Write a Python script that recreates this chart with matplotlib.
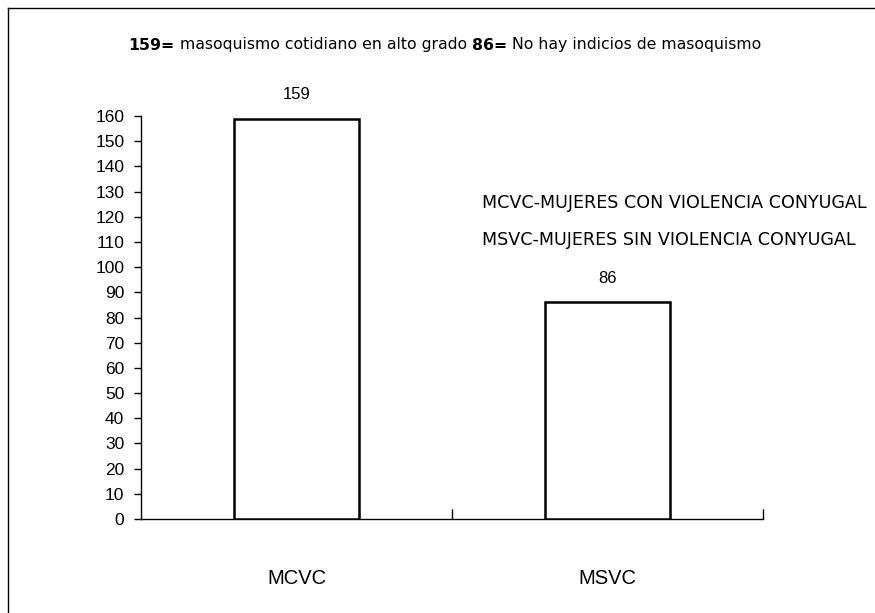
import matplotlib
matplotlib.use("Agg")
import matplotlib.pyplot as plt
from matplotlib.lines import Line2D
from matplotlib.offsetbox import TextArea, HPacker, AnchoredOffsetbox

categories = ["MCVC", "MSVC"]
values = [159, 86]
yticks = list(range(0, 161, 10))
title_parts = ["159=", " masoquismo cotidiano en alto grado ", "86=", " No hay indicios de masoquismo"]
legend_lines = ["MCVC-MUJERES CON VIOLENCIA CONYUGAL", "MSVC-MUJERES SIN VIOLENCIA CONYUGAL"]

plt.rcParams['font.family'] = ['Liberation Sans', 'DejaVu Sans']

fig = plt.figure(figsize=(8.75, 6.13), dpi=100)
ax = fig.add_axes([141/875, 1-519/613, (763-141)/875, (519-116)/613])

x = list(range(len(categories)))
ax.bar(x, values, width=0.4, color="white", edgecolor="black", linewidth=1.8, zorder=3)
for xi, v in zip(x, values):
    ax.text(xi, v + 9.5, str(v), ha="center", va="center", fontsize=12)

ax.set_xlim(-0.5, 1.5)
ax.set_ylim(0, 160)
ax.set_yticks(yticks)
ax.set_yticklabels([str(t) for t in yticks], fontsize=12.5)
ax.tick_params(axis="y", direction="out", length=5, width=1, pad=7)
ax.set_xticks([0.5, 1.5])
ax.set_xticklabels(["", ""])
ax.tick_params(axis="x", direction="in", length=7, width=1)
for xi, c in zip(x, categories):
    ax.text(xi, -23.5, c, ha="center", va="center", fontsize=14.5, clip_on=False)
for s in ["top", "right"]:
    ax.spines[s].set_visible(False)
ax.spines["left"].set_linewidth(1)
ax.spines["bottom"].set_linewidth(1)

boxes = [TextArea(t, textprops=dict(fontsize=11.3, family="DejaVu Sans",
                                    fontweight=("bold" if i % 2 == 0 else "normal")))
         for i, t in enumerate(title_parts)]
pack = HPacker(children=boxes, align="baseline", pad=0, sep=0)
ab = AnchoredOffsetbox(loc="center", child=pack, frameon=False,
                       bbox_to_anchor=(445/875, 1-45/613), bbox_transform=fig.transFigure,
                       pad=0, borderpad=0)
fig.add_artist(ab)

fig.text(482/875, 1-203/613, legend_lines[0], fontsize=12.6, family="DejaVu Sans", ha="left", va="center")
fig.text(482/875, 1-240/613, legend_lines[1], fontsize=12.6, family="DejaVu Sans", ha="left", va="center")

fig.add_artist(Line2D([8/875, 1], [1-8/613, 1-8/613], color="black", lw=1, transform=fig.transFigure))
fig.add_artist(Line2D([8/875, 8/875], [1-8/613, 0], color="black", lw=1, transform=fig.transFigure))

fig.savefig("out.png", dpi=100)
